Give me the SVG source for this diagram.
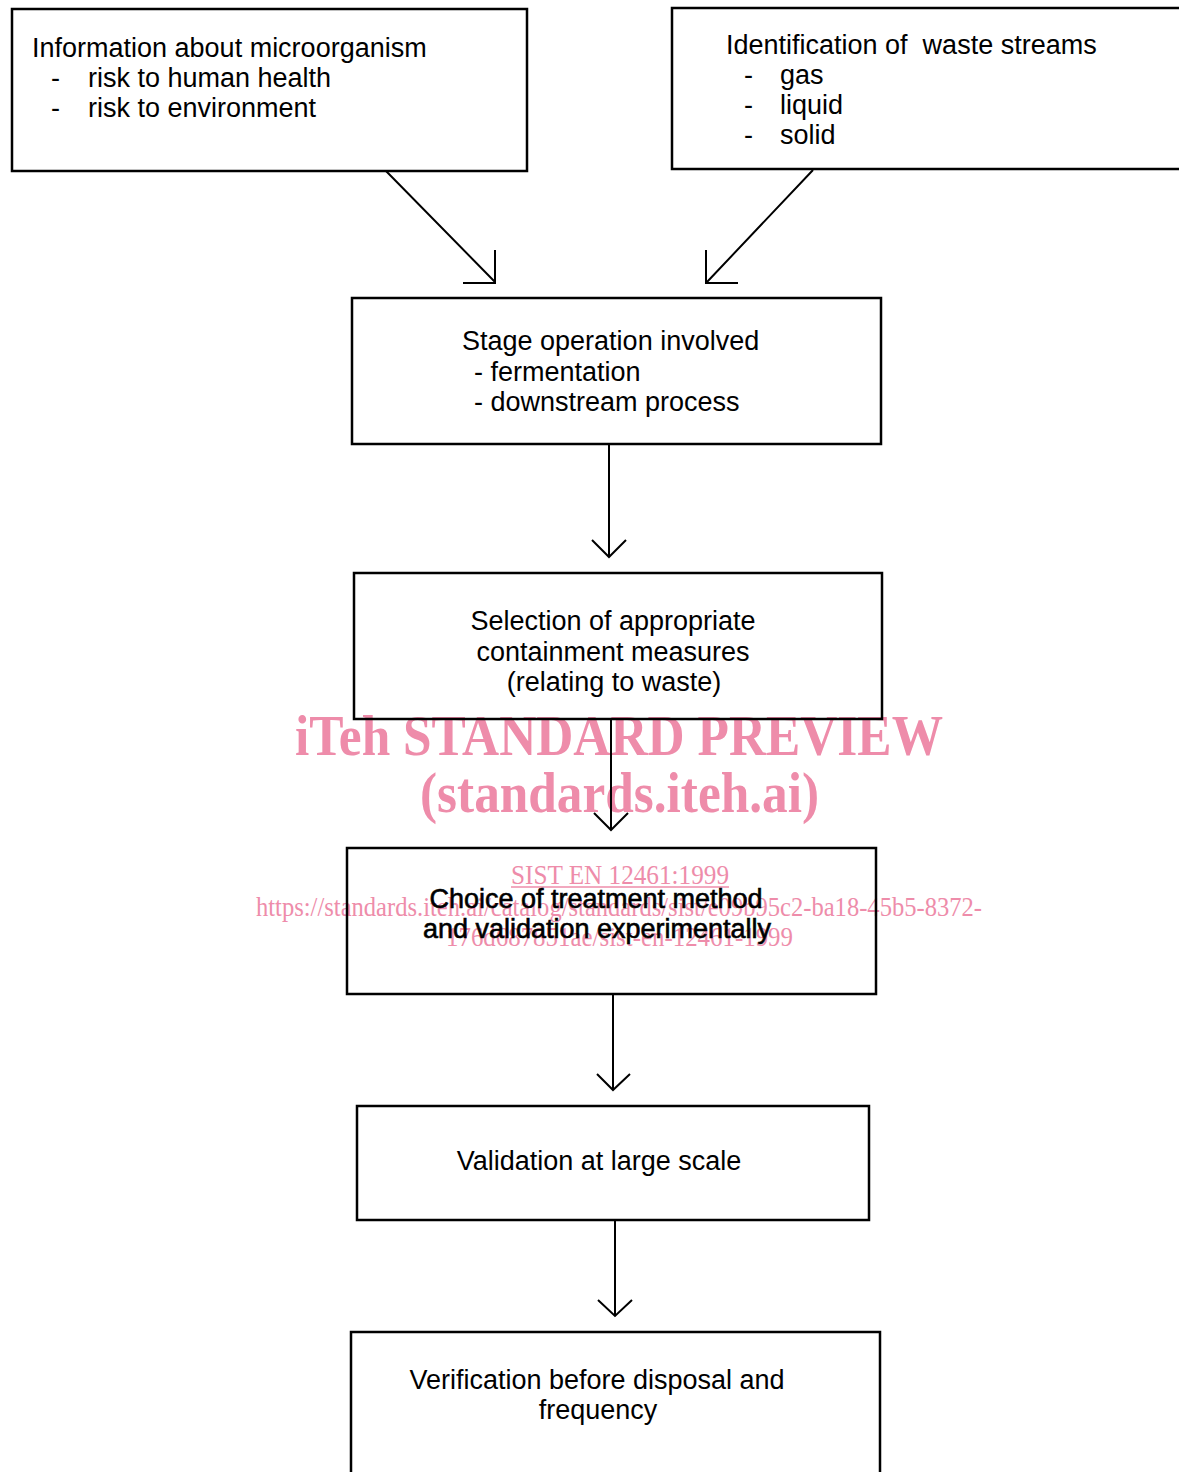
<svg xmlns="http://www.w3.org/2000/svg" width="1179" height="1472" viewBox="0 0 1179 1472">
<style>
.box{fill:none;stroke:#000;stroke-width:2.5}
.ln{fill:none;stroke:#000;stroke-width:2}
.t{font-family:"Liberation Sans",Arial,sans-serif;font-size:27px;fill:#000}
.c{text-anchor:middle}
.b{stroke:#000;stroke-width:0.6}
.wm{font-family:"Liberation Serif","Times New Roman",serif;fill:#ee8caa}
.wb{font-weight:bold;font-size:56px}
.ws{font-size:27px}
</style>
<rect width="1179" height="1472" fill="#fff"/>
<g id="watermark">
<text class="wm wb" x="295" y="755" textLength="648" lengthAdjust="spacingAndGlyphs">iTeh STANDARD PREVIEW</text>
<text class="wm wb" x="420" y="812" textLength="399" lengthAdjust="spacingAndGlyphs">(standards.iteh.ai)</text>
<text class="wm ws" x="511" y="884" textLength="218" lengthAdjust="spacingAndGlyphs">SIST EN 12461:1999</text>
<line x1="511" y1="887" x2="729" y2="887" stroke="#ee8caa" stroke-width="1.5"/>
<text class="wm ws" x="256" y="916" textLength="726" lengthAdjust="spacingAndGlyphs">https://standards.iteh.ai/catalog/standards/sist/e09b95c2-ba18-45b5-8372-</text>
<text class="wm ws" x="446" y="946" textLength="347" lengthAdjust="spacingAndGlyphs">176d687851ae/sist-en-12461-1999</text>
</g>
<g id="connectors">
<path class="ln" d="M386 171 L495 282 M495 250 L495 283 L463 283"/>
<path class="ln" d="M813 170 L707 282 M706 250 L706 283 L738 283"/>
<path class="ln" d="M609 444 L609 557 M592 540 L609 557 L626 540"/>
<path class="ln" d="M611 719 L611 830 M594 813 L611 830 L628 813"/>
<path class="ln" d="M613 994 L613 1090 M597 1074 L613 1090 L630 1074"/>
<path class="ln" d="M615 1220 L615 1316 M598 1300 L615 1316 L632 1300"/>
</g>
<g id="n1">
<rect class="box" x="12" y="9" width="515" height="162"/>
<text class="t" x="32" y="57">Information about microorganism</text>
<text class="t" x="51" y="87">-</text><text class="t" x="88" y="87">risk to human health</text>
<text class="t" x="51" y="117">-</text><text class="t" x="88" y="117">risk to environment</text>
</g>
<g id="n2">
<rect class="box" x="672" y="8" width="520" height="161"/>
<text class="t" x="726" y="54" xml:space="preserve">Identification of  waste streams</text>
<text class="t" x="744" y="84">-</text><text class="t" x="780" y="84">gas</text>
<text class="t" x="744" y="114">-</text><text class="t" x="780" y="114">liquid</text>
<text class="t" x="744" y="144">-</text><text class="t" x="780" y="144">solid</text>
</g>
<g id="n3">
<rect class="box" x="352" y="298" width="529" height="146"/>
<text class="t" x="462" y="350">Stage operation involved</text>
<text class="t" x="474" y="381">- fermentation</text>
<text class="t" x="474" y="411">- downstream process</text>
</g>
<g id="n4">
<rect class="box" x="354" y="573" width="528" height="146"/>
<text class="t c" x="613" y="630">Selection of appropriate</text>
<text class="t c" x="613" y="661">containment measures</text>
<text class="t c" x="614" y="691">(relating to waste)</text>
</g>
<g id="n5">
<rect class="box" x="347" y="848" width="529" height="146"/>
<text class="t c b" x="596" y="908">Choice of treatment method</text>
<text class="t c b" x="597" y="938">and validation experimentally</text>
</g>
<g id="n6">
<rect class="box" x="357" y="1106" width="512" height="114"/>
<text class="t c" x="599" y="1170">Validation at large scale</text>
</g>
<g id="n7">
<rect class="box" x="351" y="1332" width="529" height="160"/>
<text class="t c" x="597" y="1389">Verification before disposal and</text>
<text class="t c" x="598" y="1419">frequency</text>
</g>
</svg>
